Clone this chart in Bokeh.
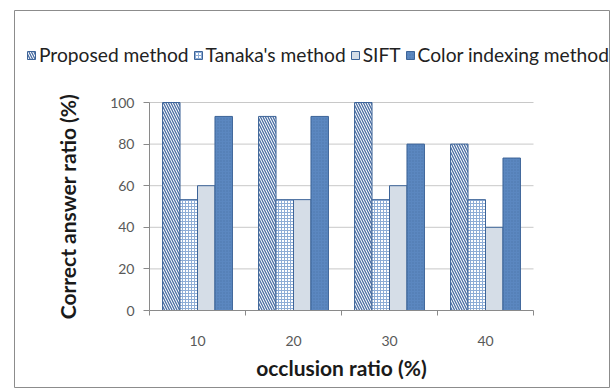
from bokeh.plotting import figure
from bokeh.models import Range1d, FixedTicker, Legend, LegendItem
from bokeh.embed import file_html
from bokeh.resources import INLINE

# Data
occlusion = ["10", "20", "30", "40"]
proposed = [100, 93.3, 100, 80]
tanaka = [53.3, 53.3, 53.3, 53.3]
sift = [60, 53.3, 60, 40]
color_indexing = [93.3, 93.3, 80, 73.3]
y_ticks = [0, 20, 40, 60, 80, 100]

series_names = ["Proposed method", "Tanaka's method", "SIFT", "Color indexing method"]
series_values = [proposed, tanaka, sift, color_indexing]

FONT = "Lato"
EDGE = "#3d6498"
AXIS = "#8a8a8a"

n_groups = len(occlusion)
y_max = y_ticks[-1]

# The frame is the whole bordered chart box; the data area sits inside it
# (96 px per group horizontally, 2.08 px per percent vertically).
px_x = 96.0
px_y = 2.08
x_range = Range1d(-(149 - 14) / px_x, n_groups + (609 - 533) / px_x)
y_range = Range1d(-(387 - 310) / px_y, y_max + (102 - 10) / px_y)

p = figure(width=615, height=389, output_backend="svg", toolbar_location=None,
           x_range=x_range, y_range=y_range,
           min_border_left=14, min_border_right=6, min_border_top=10,
           min_border_bottom=2)
p.title.visible = False
p.outline_line_color = "#8c8c8c"
p.outline_line_width = 1
p.background_fill_color = "white"
p.border_fill_color = "white"

# horizontal gridlines, only across the data area
p.xgrid.grid_line_color = None
p.ygrid.grid_line_color = None
p.segment(x0=[0] * (len(y_ticks) - 1), x1=[n_groups] * (len(y_ticks) - 1),
          y0=y_ticks[1:], y1=y_ticks[1:], line_color="#c8c8c8", line_width=1)

# bar styles per series
styles = [
    dict(fill_color="white", hatch_pattern="\\", hatch_color="#4a6ea3",
         hatch_scale=5, hatch_weight=1.3),
    dict(fill_color="white", hatch_pattern="+", hatch_color="#8eadd6",
         hatch_scale=3, hatch_weight=1),
    dict(fill_color="#d5dde7"),
    dict(fill_color="#5b87c0", hatch_pattern=".", hatch_color="#4c76ad",
         hatch_scale=3, hatch_weight=1),
]

bar_w = 0.182
n = len(series_names)
items = []
for i, (name, vals, st) in enumerate(zip(series_names, series_values, styles)):
    offset = (i - (n - 1) / 2) * bar_w
    xs = [k + 0.5 + offset for k in range(n_groups)]
    r = p.vbar(x=xs, top=vals, bottom=0, width=bar_w, line_color=EDGE,
               line_width=1, **st)
    items.append(LegendItem(label=name, renderers=[r]))

# y axis, pinned at x = 0
yax = p.yaxis[0]
yax.fixed_location = 0
yax.bounds = (0, y_max)
yax.ticker = FixedTicker(ticks=y_ticks)
yax.axis_line_color = AXIS
yax.major_tick_line_color = AXIS
yax.major_tick_out = 6
yax.major_tick_in = 0
yax.minor_tick_line_color = None
yax.major_label_standoff = 9
yax.major_label_text_font = FONT
yax.major_label_text_font_size = "14px"
yax.major_label_text_color = "#595959"
yax.axis_label = "Correct answer ratio (%)"
yax.axis_label_text_font = FONT
yax.axis_label_text_font_style = "bold"
yax.axis_label_text_font_size = "21px"
yax.axis_label_text_color = "#1a1a1a"
yax.axis_label_standoff = 27

# x axis, pinned at y = 0: labels at group centres, ticks at group boundaries
centres = [k + 0.5 for k in range(n_groups)]
bounds = list(range(n_groups + 1))
xax = p.xaxis[0]
xax.fixed_location = 0
xax.bounds = (0, n_groups)
xax.ticker = FixedTicker(ticks=centres, minor_ticks=bounds)
xax.major_label_overrides = {c: lab for c, lab in zip(centres, occlusion)}
xax.axis_line_color = AXIS
xax.major_tick_line_color = None
xax.major_tick_out = 0
xax.major_tick_in = 0
xax.minor_tick_line_color = AXIS
xax.minor_tick_out = 5
xax.minor_tick_in = 0
xax.major_label_standoff = 20
xax.major_label_text_font = FONT
xax.major_label_text_font_size = "14px"
xax.major_label_text_color = "#595959"
xax.axis_label = "occlusion ratio (%)"
xax.axis_label_text_font = FONT
xax.axis_label_text_font_style = "bold"
xax.axis_label_text_font_size = "21px"
xax.axis_label_text_color = "#1a1a1a"
xax.axis_label_standoff = 6

# legend row across the top
legend = Legend(items=items, orientation="horizontal", location=(12, 321),
                glyph_width=10, glyph_height=10, label_standoff=3, spacing=4,
                padding=0, margin=0, border_line_color=None,
                background_fill_alpha=0,
                label_text_font=FONT, label_text_font_size="19.2px",
                label_text_color="#222222", label_height=12)
p.add_layout(legend, "center")

open("out.html", "w").write(file_html(p, INLINE))
